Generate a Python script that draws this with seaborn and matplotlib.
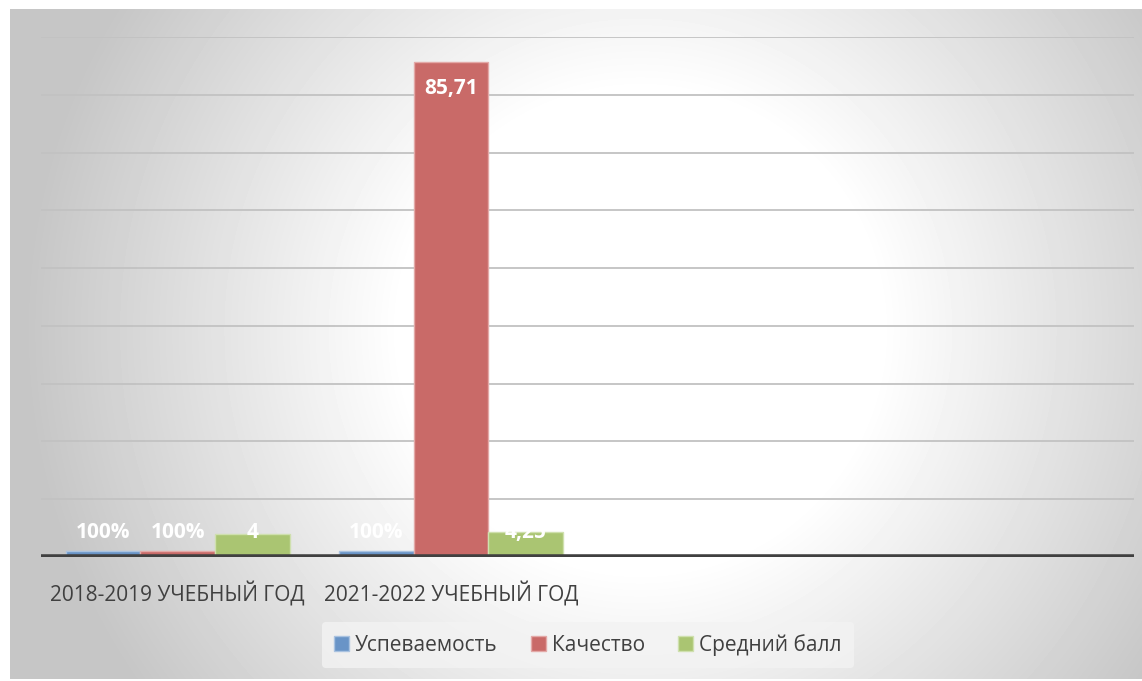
import numpy as np
import pandas as pd
import matplotlib
matplotlib.use("Agg")
import matplotlib.pyplot as plt
import seaborn as sns
from matplotlib.patches import Patch

# Data
years = ["2018-2019 УЧЕБНЫЙ ГОД", "2021-2022 УЧЕБНЫЙ ГОД"]
series = ["Успеваемость", "Качество", "Средний балл"]
uspevaemost = [1, 1]
kachestvo = [1, 85.71]
sredniy_ball = [4, 4.25]
labels_usp = ["100%", "100%"]
labels_kach = ["100%", "85,71"]
labels_sr = ["4", "4,25"]

colors = ["#6994C7", "#C96A68", "#AAC572"]
edge_colors = ["#a9c2e0", "#e3a9a7", "#cfe0ae"]

df = pd.DataFrame({
    "year": years * 3,
    "series": np.repeat(series, len(years)),
    "value": uspevaemost + kachestvo + sredniy_ball,
})
bar_labels = [labels_usp, labels_kach, labels_sr]

sns.set_theme(style="white")
plt.rcParams["font.family"] = ["Open Sans", "DejaVu Sans"]

W, H = 1142, 681
fig = plt.figure(figsize=(W / 100, H / 100), dpi=100)
fig.patch.set_facecolor("white")

# Radial gradient background of the chart area
bx0, by0, bx1, by1 = 10, 9, 1142, 679
bg = fig.add_axes([bx0 / W, 1 - by1 / H, (bx1 - bx0) / W, (by1 - by0) / H], zorder=-10)
yy, xx = np.mgrid[by0:by1, bx0:bx1]
r = np.hypot(xx - 640, yy - 330)
shade = np.clip(255 - (r - 240) / 360 * 55, 198, 255) / 255
bg.imshow(shade, cmap="gray", vmin=0, vmax=1, aspect="auto", interpolation="bilinear")
bg.axis("off")

# Plot area
px0, py0, px1, py1 = 41, 37, 1134, 557
ax = fig.add_axes([px0 / W, 1 - py1 / H, (px1 - px0) / W, (py1 - py0) / H])
ax.set_facecolor("none")

sns.barplot(data=df, x="year", y="value", hue="series", order=years,
            hue_order=series, palette=colors, saturation=1, width=0.82,
            legend=False, ax=ax, zorder=3)

for i, cont in enumerate(ax.containers):
    for j, bar in enumerate(cont):
        bar.set_edgecolor(edge_colors[i])
        bar.set_linewidth(1.0)
        h = bar.get_height()
        xc = bar.get_x() + bar.get_width() / 2
        ypos = h - 4.6 if h > 10 else 4.3
        ax.text(xc, ypos, bar_labels[i][j], ha="center", va="center",
                color="white", fontsize=15, fontweight="bold", zorder=6)

ax.set_xlim(-0.5, 3.5)
ax.set_ylim(0, 90)
ax.set_yticks(np.arange(0, 91, 10))
ax.yaxis.grid(True, color="#c2c2c2", linewidth=1.3, zorder=0)
ax.set_axisbelow(True)
ax.axhline(0, color="#404040", linewidth=4, zorder=5)
ax.set_yticklabels([])
ax.set_xlabel("")
ax.set_ylabel("")
ax.tick_params(axis="both", length=0)
ax.tick_params(axis="x", pad=18, labelsize=15, labelcolor="#404040")
for s in ax.spines.values():
    s.set_visible(False)

handles = [Patch(facecolor=c, edgecolor=e, linewidth=1) for c, e in zip(colors, edge_colors)]
leg = fig.legend(handles, series, loc="center", bbox_to_anchor=(588 / W, 1 - 645 / H),
                 ncol=3, frameon=True, fontsize=15, handlelength=0.7, handleheight=0.7,
                 handletextpad=0.3, columnspacing=1.6, borderpad=0.6)
leg.get_frame().set_facecolor("#f3f3f3")
leg.get_frame().set_edgecolor("none")
leg.get_frame().set_alpha(0.8)
for t in leg.get_texts():
    t.set_color("#404040")

fig.savefig("out.png", dpi=100)
